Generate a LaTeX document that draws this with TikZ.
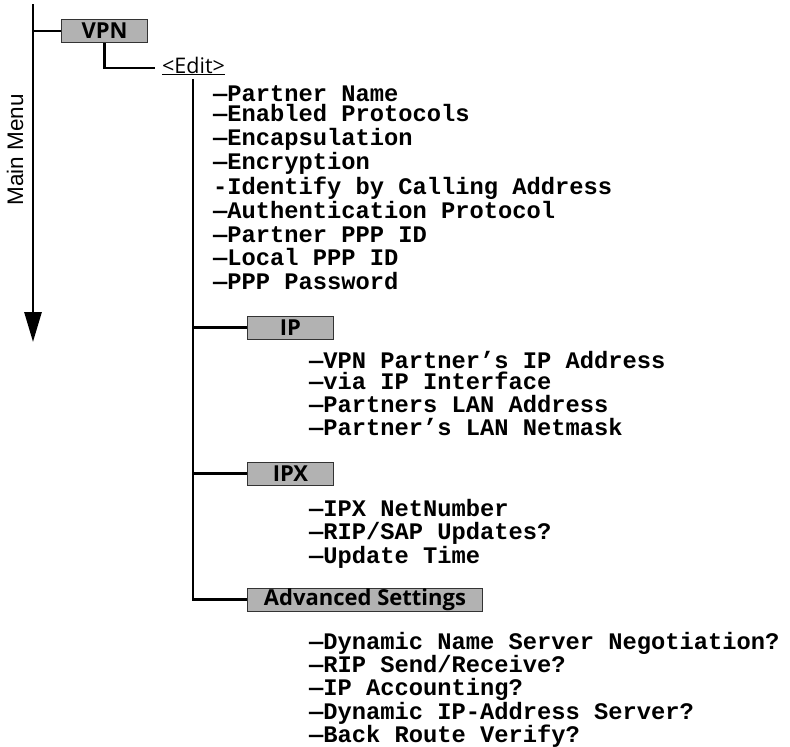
\documentclass[tikz,border=0pt]{standalone}
\usepackage{fontspec}
\setmainfont{Liberation Sans}
\newfontfamily\monob{Liberation Mono}
\newfontfamily\boxfont{Open Sans}
\usetikzlibrary{arrows.meta}
\begin{document}
\begin{tikzpicture}[x=1pt,y=-1pt,
  wire/.style={line width=2.6pt},
  menubox/.style={draw=black!80, line width=1pt, fill={rgb,255:red,178;green,178;blue,178},
    minimum height=23pt, minimum width=86pt, inner sep=0pt, anchor=west,
    font=\boxfont\bfseries\fontsize{22}{22}\selectfont},
  item/.style={anchor=base west, inner sep=0pt, font=\monob\bfseries\fontsize{23.75}{24}\selectfont}]
\useasboundingbox (0,0) rectangle (790,747);

% main menu axis
\coordinate (mtop) at (33,4);
\coordinate (mbot) at (33,342);
\draw[line width=2.8pt, -{Triangle[length=30pt,width=17pt]}] (mtop) -- (mbot);
\node[rotate=90, font=\fontsize{22.5}{22.5}\selectfont] (mm) at (15,150) {Main Menu};

% VPN
\node[menubox] (vpn) at (61,31) {VPN};
\draw[wire] (mtop |- vpn.west) -- (vpn.west);

% Edit
\node[anchor=base west, inner sep=0pt, font=\boxfont\fontsize{21.5}{21.5}\selectfont] (edit) at (162,73) {\underline{<Edit>}};
\coordinate (eL) at (155,68);
\draw[wire] (vpn.south) |- (eL);

\coordinate (etop) at (193,79);

% Edit items
\node[item] (e1) at (213,101) {—Partner Name};
\node[item] (e2) at (213,121) {—Enabled Protocols};
\node[item] (e3) at (213,145) {—Encapsulation};
\node[item] (e4) at (213,169) {—Encryption};
\node[item] (e5) at (213,194) {-Identify by Calling Address};
\node[item] (e6) at (213,218) {—Authentication Protocol};
\node[item] (e7) at (213,242) {—Partner PPP ID};
\node[item] (e8) at (213,265) {—Local PPP ID};
\node[item] (e9) at (213,289) {—PPP Password};

% IP
\node[menubox] (ip) at (247,327.5) {IP};
\node[item] (i1) at (309,368) {—VPN Partner’s IP Address};
\node[item] (i2) at (309,389) {—via IP Interface};
\node[item] (i3) at (309,412) {—Partners LAN Address};
\node[item] (i4) at (309,435) {—Partner’s LAN Netmask};

% IPX
\node[menubox] (ipx) at (247,473.5) {IPX};
\node[item] (x1) at (309,516) {—IPX NetNumber};
\node[item] (x2) at (309,539) {—RIP/SAP Updates?};
\node[item] (x3) at (309,563) {—Update Time};

% Advanced
\node[menubox, minimum width=235pt] (adv) at (247,599.5) {Advanced Settings};
\node[item] (a1) at (309,649) {—Dynamic Name Server Negotiation?};
\node[item] (a2) at (309,672) {—RIP Send/Receive?};
\node[item] (a3) at (309,695) {—IP Accounting?};
\node[item] (a4) at (309,719) {—Dynamic IP-Address Server?};
\node[item] (a5) at (309,742) {—Back Route Verify?};

% Edit tree
\draw[wire] (etop) |- (adv.west);
\draw[wire] (etop |- ip.west) -- (ip.west);
\draw[wire] (etop |- ipx.west) -- (ipx.west);
\end{tikzpicture}
\end{document}
